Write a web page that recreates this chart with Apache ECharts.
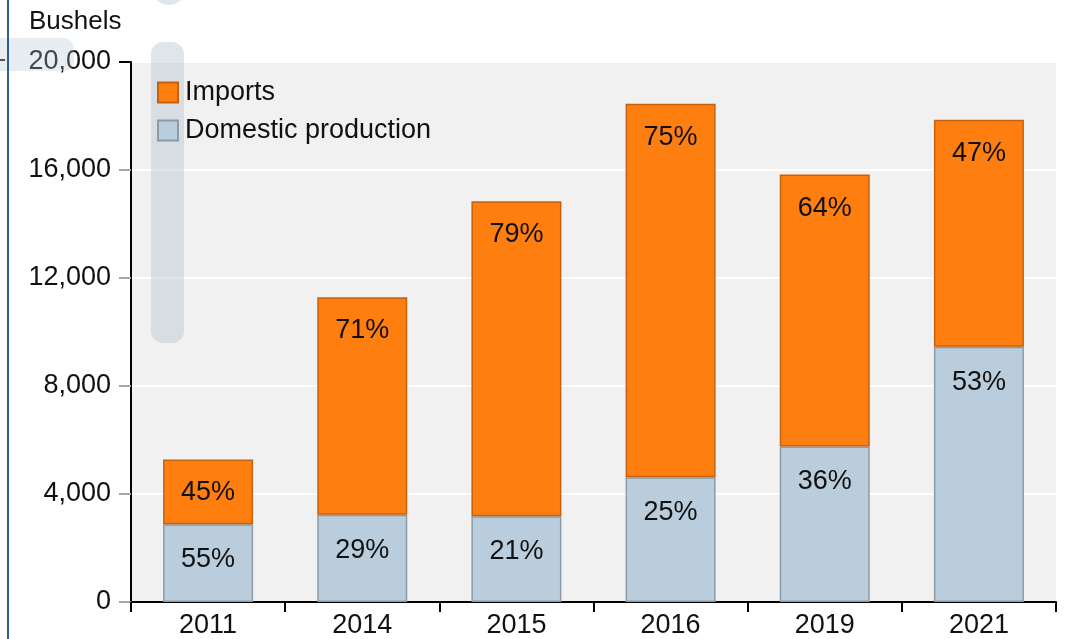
<!DOCTYPE html>
<html>
<head>
<meta charset="utf-8">
<style>
  html, body { margin: 0; padding: 0; background: #ffffff; }
  #chart { width: 1068px; height: 639px; }
</style>
<script src="https://cdn.jsdelivr.net/npm/echarts@6/dist/echarts.min.js"></script>
</head>
<body>
<div id="chart"></div>
<script>
// Years shown on the category axis
const years = ['2011', '2014', '2015', '2016', '2019', '2021'];
// Bushels from domestic production
const domestic = [2880, 3230, 3180, 4620, 5760, 9450];
// Bushels imported
const imports = [2400, 8060, 11660, 13830, 10070, 8410];
// Value-axis ticks
const yTicks = [0, 4000, 8000, 12000, 16000, 20000];

const totals = years.map((_, i) => domestic[i] + imports[i]);
const pct = (v, i) => Math.round(v / totals[i] * 100) + '%';

const FONT = '"Liberation Sans", Arial, sans-serif';
const FS = 27;
const labelStyle = {
  show: true,
  position: 'insideTop',
  fontFamily: FONT,
  fontSize: FS,
  color: '#111111'
};

const chart = echarts.init(document.getElementById('chart'), null, { renderer: 'canvas' });

chart.setOption({
  animation: false,
  backgroundColor: '#ffffff',
  textStyle: { fontFamily: FONT },
  grid: {
    left: 131, right: 12, top: 62, bottom: 35,
    show: true, backgroundColor: '#f1f1f1', borderWidth: 0
  },
  title: {
    text: 'Bushels',
    left: 24, top: 4,
    textStyle: { fontFamily: FONT, fontSize: 26, fontWeight: 'normal', color: '#111111' }
  },
  legend: {
    data: ['Imports', 'Domestic production'],
    orient: 'vertical',
    left: 157, top: 79,
    padding: 0,
    itemWidth: 20, itemHeight: 20, itemGap: 11,
    icon: 'rect',
    z: 6,
    textStyle: { fontFamily: FONT, fontSize: FS, color: '#111111', padding: [0, 0, 0, 2] }
  },
  xAxis: {
    type: 'category',
    data: years,
    axisLine: { lineStyle: { color: '#000000', width: 2 } },
    axisTick: { show: true, length: 10, lineStyle: { color: '#000000', width: 2 } },
    axisLabel: { fontFamily: FONT, fontSize: FS, color: '#111111', margin: 10 }
  },
  yAxis: {
    type: 'value',
    min: yTicks[0],
    max: yTicks[yTicks.length - 1],
    interval: yTicks[1] - yTicks[0],
    axisLine: { show: true, lineStyle: { color: '#000000', width: 2 } },
    axisTick: { show: true, length: 12, lineStyle: { color: '#a8a8a8', width: 2 } },
    axisLabel: {
      fontFamily: FONT, fontSize: FS, color: '#111111', margin: 20,
      formatter: v => v.toLocaleString('en-US')
    },
    splitLine: { show: true, lineStyle: { color: '#ffffff', width: 2 } }
  },
  series: [
    {
      name: 'Domestic production',
      type: 'bar',
      stack: 'total',
      barWidth: 90,
      data: domestic,
      itemStyle: { color: '#b9cddc', borderColor: '#8c9ba7', borderWidth: 1.5 },
      label: Object.assign({}, labelStyle, { distance: 22, formatter: p => pct(p.value, p.dataIndex) })
    },
    {
      name: 'Imports',
      type: 'bar',
      stack: 'total',
      barWidth: 90,
      data: imports,
      itemStyle: { color: '#fe7f10', borderColor: '#c6620f', borderWidth: 1.5 },
      label: Object.assign({}, labelStyle, { distance: 20, formatter: p => pct(p.value, p.dataIndex) })
    }
  ],
  graphic: [
    // page edge rule on the left
    { type: 'rect', shape: { x: 7, y: 0, width: 2, height: 639 }, style: { fill: '#2f5d96' }, z: 100 },
    { type: 'rect', shape: { x: 0, y: 59, width: 5, height: 2 }, style: { fill: '#555555' }, z: 100 },
    // top end tick of the value axis
    { type: 'rect', shape: { x: 119, y: 61, width: 12, height: 2 }, style: { fill: '#000000' }, z: 100 },
    // translucent overlay handles, drawn beneath the legend
    { type: 'rect', shape: { x: -12, y: 38, width: 86, height: 33, r: 10 }, style: { fill: 'rgba(180,194,212,0.3)' }, z: 3 },
    { type: 'rect', shape: { x: 151, y: 42, width: 33, height: 301, r: 12 }, style: { fill: 'rgba(180,192,208,0.42)' }, z: 3 },
    { type: 'circle', shape: { cx: 169, cy: -12, r: 17 }, style: { fill: 'rgba(180,192,208,0.4)' }, z: 3 }
  ]
});
</script>
</body>
</html>
